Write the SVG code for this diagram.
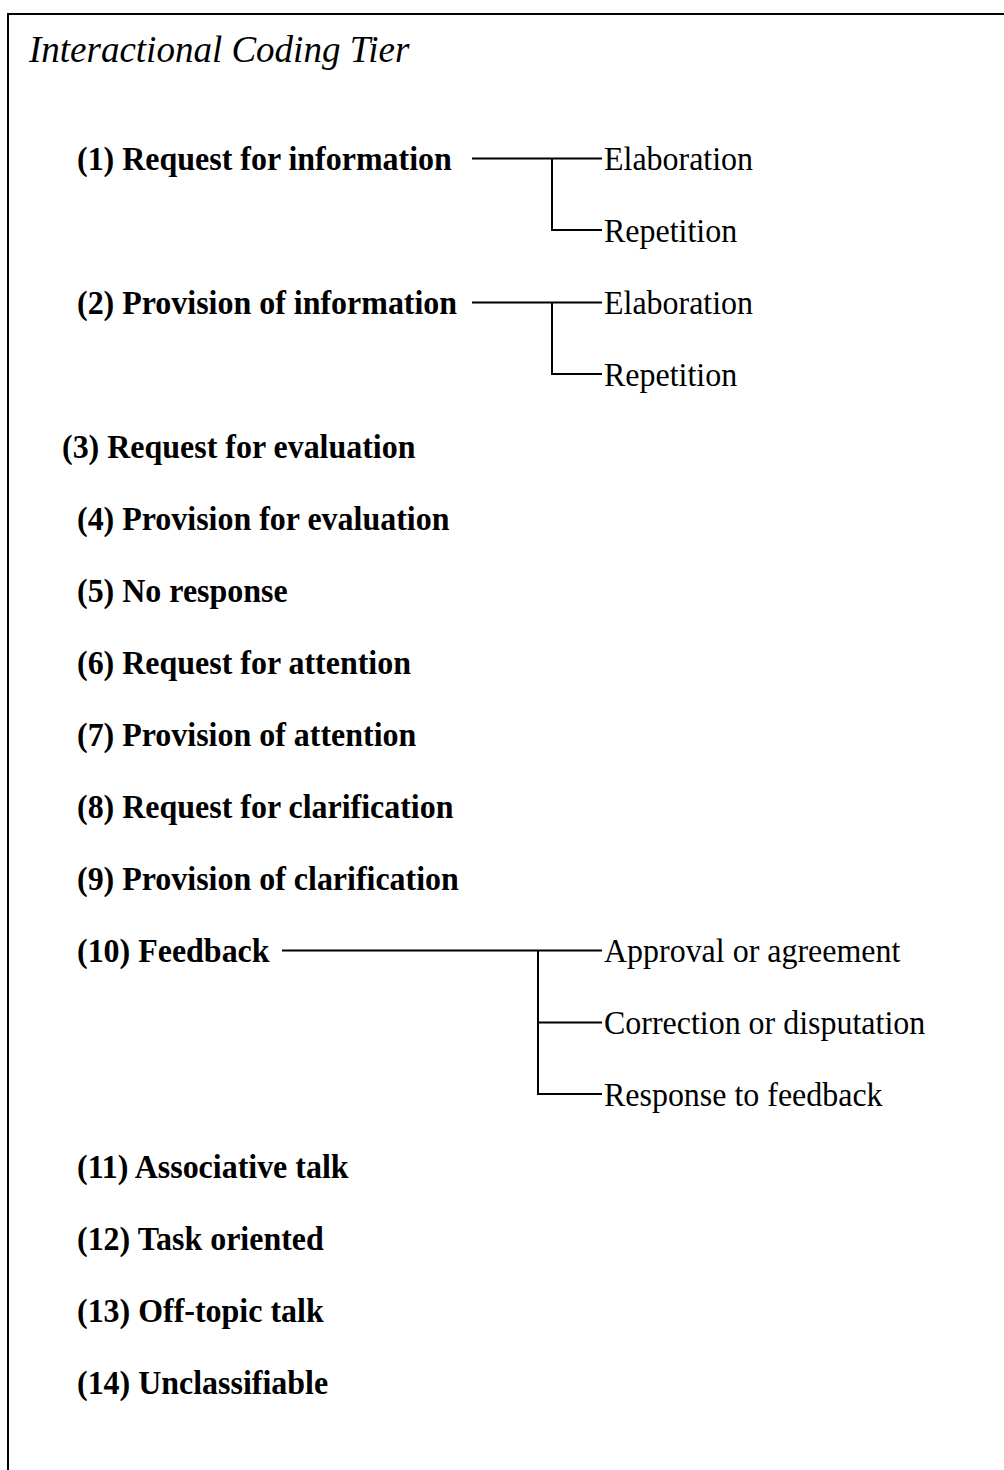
<svg xmlns="http://www.w3.org/2000/svg" width="1004" height="1470" viewBox="0 0 1004 1470">
<style>
.t{font-family:"Liberation Serif","Times New Roman",serif;font-style:italic;font-size:37px;fill:#000}
.b{font-family:"Liberation Serif","Times New Roman",serif;font-weight:bold;font-size:34px;fill:#000}
.n{font-family:"Liberation Serif","Times New Roman",serif;font-size:34px;fill:#000}
.ln{stroke:#000;stroke-width:2;fill:none}
</style>
<rect width="1004" height="1470" fill="#fff"/>
<g id="frame"><path class="ln" d="M8 1470 V14 H1004" stroke-width="3"/></g>
<g id="title"><text class="t" x="29" y="62">Interactional Coding Tier</text></g>
<g id="n1"><text class="b" transform="translate(77 170) scale(0.94 1)">(1) Request for information</text></g>
<g id="n1a"><text class="n" transform="translate(604 170) scale(0.94 1)">Elaboration</text></g>
<g id="n1b"><text class="n" transform="translate(604 242) scale(0.94 1)">Repetition</text></g>
<g id="n2"><text class="b" transform="translate(77 314) scale(0.94 1)">(2) Provision of information</text></g>
<g id="n2a"><text class="n" transform="translate(604 314) scale(0.94 1)">Elaboration</text></g>
<g id="n2b"><text class="n" transform="translate(604 386) scale(0.94 1)">Repetition</text></g>
<g id="n3"><text class="b" transform="translate(62 458) scale(0.94 1)">(3) Request for evaluation</text></g>
<g id="n4"><text class="b" transform="translate(77 530) scale(0.94 1)">(4) Provision for evaluation</text></g>
<g id="n5"><text class="b" transform="translate(77 602) scale(0.94 1)">(5) No response</text></g>
<g id="n6"><text class="b" transform="translate(77 674) scale(0.94 1)">(6) Request for attention</text></g>
<g id="n7"><text class="b" transform="translate(77 746) scale(0.94 1)">(7) Provision of attention</text></g>
<g id="n8"><text class="b" transform="translate(77 818) scale(0.94 1)">(8) Request for clarification</text></g>
<g id="n9"><text class="b" transform="translate(77 890) scale(0.94 1)">(9) Provision of clarification</text></g>
<g id="n10"><text class="b" transform="translate(77 962) scale(0.94 1)">(10) Feedback</text></g>
<g id="n10a"><text class="n" transform="translate(604 962) scale(0.94 1)">Approval or agreement</text></g>
<g id="n10b"><text class="n" transform="translate(604 1034) scale(0.94 1)">Correction or disputation</text></g>
<g id="n10c"><text class="n" transform="translate(604 1106) scale(0.94 1)">Response to feedback</text></g>
<g id="n11"><text class="b" transform="translate(77 1178) scale(0.94 1)">(11) Associative talk</text></g>
<g id="n12"><text class="b" transform="translate(77 1250) scale(0.94 1)">(12) Task oriented</text></g>
<g id="n13"><text class="b" transform="translate(77 1322) scale(0.94 1)">(13) Off-topic talk</text></g>
<g id="n14"><text class="b" transform="translate(77 1394) scale(0.94 1)">(14) Unclassifiable</text></g>
<g id="connectors">
<path class="ln" d="M472 158.5 H602 M552 158.5 V230 H602"/>
<path class="ln" d="M472 302.5 H602 M552 302.5 V374 H602"/>
<path class="ln" d="M282 950.5 H602 M538 950.5 V1094 H602 M538 1022.5 H602"/>
</g>
</svg>
